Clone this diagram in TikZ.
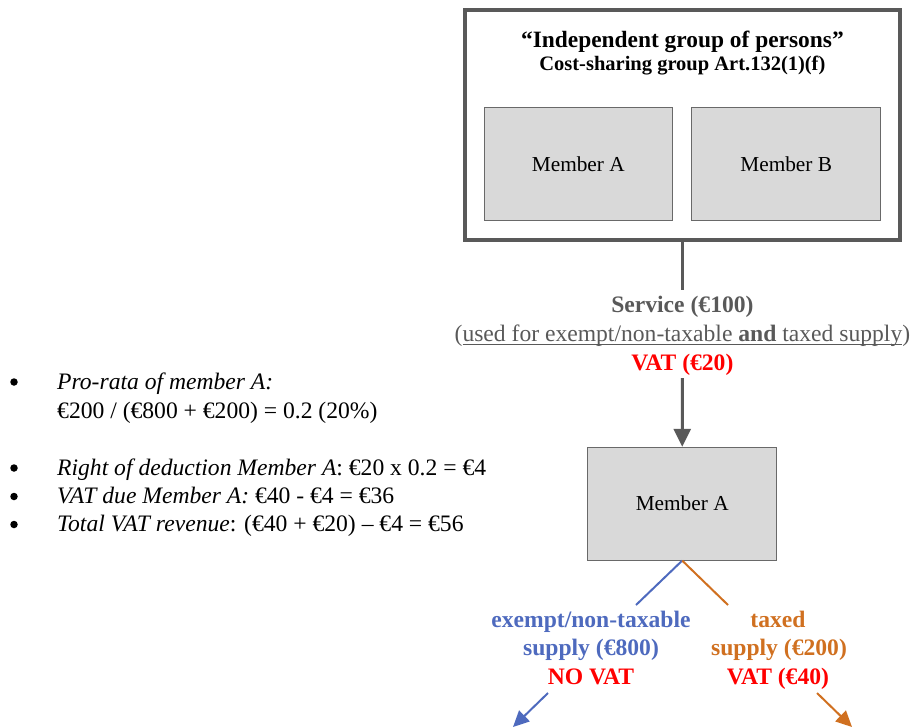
\documentclass[tikz,border=0pt]{standalone}
\usepackage{fontspec}
\setmainfont{Liberation Serif}
\usetikzlibrary{arrows.meta}

% font size given in points, leading equal to the size
\newcommand\pxsize[1]{\fontsize{#1pt}{#1pt}\selectfont}
% Word-style underline that runs through the descenders
\newcommand\ulword[1]{\setbox0\hbox{#1}\rlap{\rule[-3.6pt]{\wd0}{1pt}}\box0}

\definecolor{framegray}{RGB}{89,89,89}
\definecolor{fillgray}{RGB}{217,217,217}
\definecolor{edgegray}{RGB}{105,105,105}
\definecolor{supblue}{RGB}{78,106,190}
\definecolor{suporange}{RGB}{208,112,32}
\definecolor{vatred}{RGB}{255,0,0}

\begin{document}
\begin{tikzpicture}[x=1pt,y=-1pt,
  groupframe/.style={draw=framegray, line width=4pt, inner sep=0pt, outer sep=0pt,
    minimum width=434.2pt, minimum height=229.2pt, anchor=north west},
  memberbox/.style={draw=edgegray, line width=0.8pt, fill=fillgray, inner sep=0pt,
    minimum width=188.7pt, minimum height=113pt, font=\pxsize{21.3}},
  txt/.style={inner sep=0pt, anchor=base, font=\pxsize{23.6}},
  bodytxt/.style={inner sep=0pt, anchor=base west, font=\pxsize{23.6}},
  bulletdot/.style={circle, fill=black, inner sep=0pt, minimum size=7.5pt},
  flowarrow/.style={draw=framegray, line width=3pt, -{Triangle[length=18pt,width=17pt]}},
  flowline/.style={draw=framegray, line width=3pt},
  bluebranch/.style={draw=supblue, line width=2pt},
  orangebranch/.style={draw=suporange, line width=2pt},
  branchtip/.style={-{Triangle[length=16pt,width=15pt]}}
]
\useasboundingbox (0,0) rectangle (913,726);

% ---- cost-sharing group with its two members
\node[groupframe] (group) at (465.3,10.3) {};
\node[txt, font=\pxsize{23.4}\bfseries] (title) at (682.4,47.5) {“Independent group of persons”};
\node[txt, font=\pxsize{20.5}\bfseries] (subtitle) at (682.4,70.5) {Cost-sharing group Art.132(1)(f)};
\node[memberbox] (memA) at (578.3,164.3) {Member A};
\node[memberbox] (memB) at (786.2,164.3) {Member B};

% ---- service supplied to member A
\node[txt, text=framegray, font=\pxsize{23.6}\bfseries] (svc) at (682.4,312.7) {Service (€100)};
\node[txt, text=framegray] (use) at (682.4,341) {(\ulword{used for exempt/non-taxable \textbf{and} taxed supply})};
\node[txt, text=vatred, font=\pxsize{23.6}\bfseries] (vat20) at (682.4,370) {VAT (€20)};

\node[memberbox] (memA2) at (682.2,503.7) {Member A};

\coordinate (svctop) at (682.4,290);
\coordinate (svcbot) at (682.4,378);
\draw[flowline] (group.south) -- (svctop);
\draw[flowarrow] (svcbot) -- (memA2.north);

% ---- outgoing supplies of member A
\node[txt, text=supblue, font=\pxsize{23.6}\bfseries] (ex1) at (591,627) {exempt/non-taxable};
\node[txt, text=supblue, font=\pxsize{23.6}\bfseries] (ex2) at (591,655) {supply (€800)};
\node[txt, text=vatred, font=\pxsize{23.6}\bfseries] (ex3) at (591,684) {NO VAT};

\node[txt, text=suporange, font=\pxsize{23.6}\bfseries] (tx1) at (778,627) {taxed};
\node[txt, text=suporange, font=\pxsize{23.6}\bfseries] (tx2) at (779,655) {supply (€200)};
\node[txt, text=vatred, font=\pxsize{23.6}\bfseries] (tx3) at (778,684) {VAT (€40)};

\coordinate (exin) at (636,605);
\coordinate (exout) at (548,693);
\coordinate (exend) at (513,727);
\coordinate (txin) at (728,605);
\coordinate (txout) at (817,693);
\coordinate (txend) at (852,727);

\draw[bluebranch] (memA2.south) -- (exin);
\draw[bluebranch, branchtip] (exout) -- (exend);
\draw[orangebranch] (memA2.south) -- (txin);
\draw[orangebranch, branchtip] (txout) -- (txend);

% ---- calculation notes
\node[bulletdot] (b1) at (14,382) {};
\node[bulletdot] (b2) at (14,468) {};
\node[bulletdot] (b3) at (14,496.5) {};
\node[bulletdot] (b4) at (14,524.5) {};

\node[bodytxt] (n1) at (57,389.5) {\itshape Pro-rata of member A:};
\node[bodytxt] (n1b) at (57,418) {€200 / (€800 + €200) = 0.2 (20\%)};
\node[bodytxt] (n2) at (57,475.5) {\textit{Right of deduction Member A}: €20 x 0.2 = €4};
\node[bodytxt] (n3) at (57,503.5) {\textit{VAT due Member A:} €40 - €4 = €36};
\node[bodytxt] (n4) at (57,531.5) {\textit{Total VAT revenue}: (€40 + €20) – €4 = €56};
\end{tikzpicture}
\end{document}
